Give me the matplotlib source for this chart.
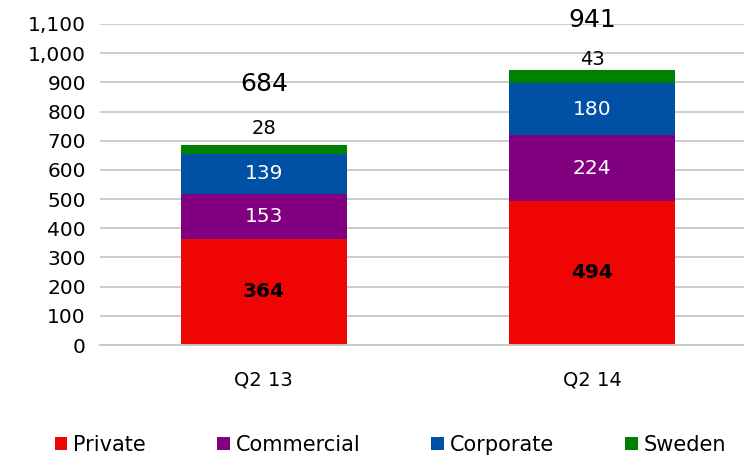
import matplotlib
matplotlib.use("Agg")
import matplotlib.pyplot as plt
import numpy as np

quarters = ["Q2 13", "Q2 14"]
segments = ["Private", "Commercial", "Corporate", "Sweden"]
private = [364, 494]
commercial = [153, 224]
corporate = [139, 180]
sweden = [28, 43]
totals = [684, 941]

colors = ["#F00505", "#800080", "#0050A5", "#008000"]
text_colors = ["black", "white", "white", None]
y_ticks = list(range(0, 1101, 100))

# label offsets above the bar top, in points
top_label_offset = [12.5, 7.5]
total_label_offset = [44, 36]

plt.rcParams["font.family"] = ["DejaVu Sans"]

fig = plt.figure(figsize=(7.44, 4.57), dpi=100)
ax = fig.add_axes([0.134, 0.245, 0.866, 0.7025])

x = np.arange(len(quarters))
width = 0.505
bottom = np.zeros(len(quarters))
for name, vals, col, tcol in zip(segments, [private, commercial, corporate, sweden], colors, text_colors):
    vals = np.array(vals, dtype=float)
    ax.bar(x, vals, width, bottom=bottom, color=col, label=name, zorder=2)
    for i, (xi, b, v) in enumerate(zip(x, bottom, vals)):
        if tcol is None:
            # thin top segment: label sits just above the bar
            ax.annotate(f"{int(v)}", (xi, b + v), xytext=(0, top_label_offset[i]),
                        textcoords="offset points", ha="center", va="center",
                        fontsize=14, color="black")
        else:
            ax.text(xi, b + v / 2, f"{int(v)}", ha="center", va="center", fontsize=14.5,
                    color=tcol, fontweight="bold" if name == "Private" else "normal", zorder=3)
    bottom += vals

for i, (xi, t) in enumerate(zip(x, totals)):
    ax.annotate(f"{t}", (xi, t), xytext=(0, total_label_offset[i]), textcoords="offset points",
                ha="center", va="center", fontsize=18, color="black", annotation_clip=False)

ax.set_xlim(-0.5, 1.463)
ax.set_ylim(0, 1100)
ax.set_yticks(y_ticks)
ax.set_yticklabels([f"{v:,}" for v in y_ticks], fontsize=14.5)
ax.set_xticks(x)
ax.set_xticklabels(quarters, fontsize=14)
ax.tick_params(axis="y", length=0, pad=10)
ax.tick_params(axis="x", length=0, pad=18)
ax.yaxis.grid(True, color="#C8C8C8", lw=1.3, zorder=0)
for side in ["left", "right", "top"]:
    ax.spines[side].set_visible(False)
ax.spines["bottom"].set_color("#C8C8C8")
ax.spines["bottom"].set_linewidth(1.3)

fig.legend(loc="center", bbox_to_anchor=(0.525, 0.027), ncol=4, frameon=False,
           fontsize=15, handlelength=0.6, handleheight=0.6, handletextpad=0.3,
           columnspacing=3.4, borderpad=0)

fig.savefig("out.png", dpi=100)
